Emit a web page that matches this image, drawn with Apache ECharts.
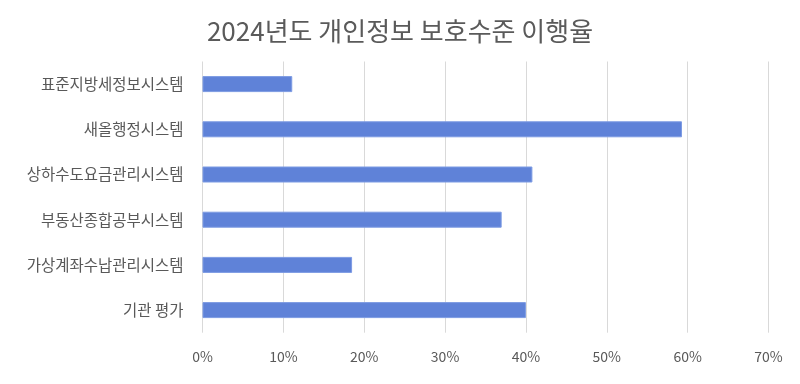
<!DOCTYPE html>
<html><head><meta charset="utf-8">
<script src="https://cdn.jsdelivr.net/npm/echarts@6/dist/echarts.min.js"></script>
<style>html,body{margin:0;padding:0;background:#fff}#c{width:800px;height:384px}</style>
</head><body><div id="c"></div>
<script>
const categories = ['표준지방세정보시스템','새올행정시스템','상하수도요금관리시스템','부동산종합공부시스템','가상계좌수납관리시스템','기관 평가'];
const values = [11.1, 59.3, 40.8, 37.0, 18.5, 40.0];
const titleText = '2024년도 개인정보 보호수준 이행율';

const chart = echarts.init(document.getElementById('c'));
chart.setOption({
  animation: false,
  backgroundColor: '#ffffff',
  title: {
    text: titleText, left: 'center', top: 13,
    textStyle: {fontFamily: 'Noto Sans CJK KR', fontSize: 26, fontWeight: 'normal', color: '#5a5a5a'}
  },
  grid: {left: 202.5, right: 31.5, top: 61.5, bottom: 51.3, containLabel: false},
  xAxis: {
    type: 'value', min: 0, max: 70, interval: 10,
    axisLine: {show: false}, axisTick: {show: false},
    splitLine: {lineStyle: {color: '#d9d9d9', width: 1}},
    axisLabel: {formatter: '{value}%', color: '#595959', fontSize: 14, fontFamily: 'Noto Sans CJK KR', margin: 17}
  },
  yAxis: {
    type: 'category', data: categories, inverse: true,
    axisLine: {show: false}, axisTick: {show: false},
    axisLabel: {color: '#595959', fontSize: 15.5, fontFamily: 'Noto Sans CJK KR', margin: 19}
  },
  series: [{
    type: 'bar', data: values, barWidth: 16,
    itemStyle: {color: '#5f82d8', borderColor: '#7d9be3', borderWidth: 1}
  }]
});
</script></body></html>
